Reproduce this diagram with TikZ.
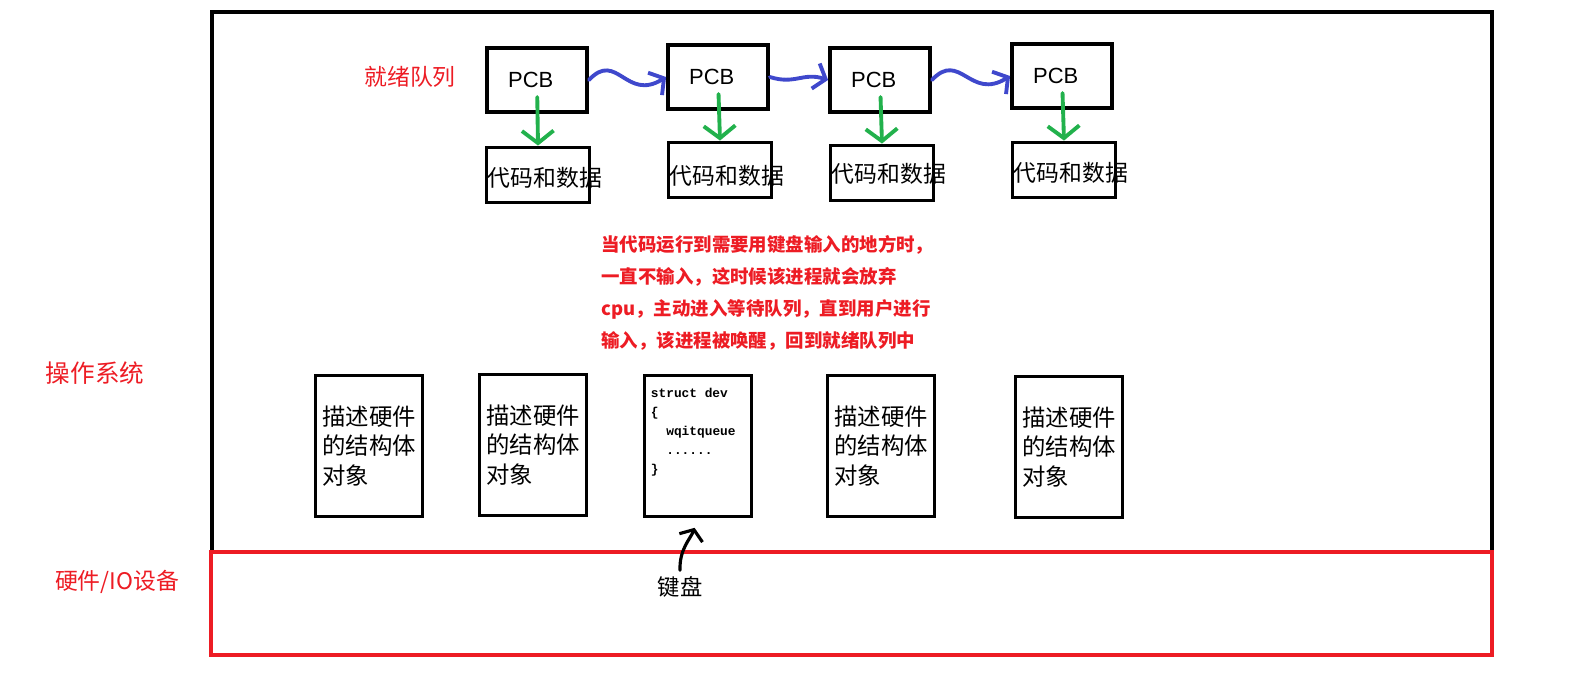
\documentclass[tikz,border=0pt]{standalone}
\usepackage{fontspec}
\setmainfont{Liberation Sans}
\newfontfamily\cjk{Noto Sans CJK SC}
\newfontfamily\codefont{Liberation Mono}
\usepackage{xcolor}
\usetikzlibrary{arrows.meta, positioning}
\definecolor{osred}{RGB}{237,28,36}
\definecolor{penblue}{RGB}{63,72,204}
\definecolor{pengreen}{RGB}{34,177,76}
\tikzset{
  pcbbox/.style={draw, line width=2.2pt, minimum width=2cm, minimum height=1.28cm, inner sep=0pt, font=\fontsize{12.5}{13}\selectfont},
  databox/.style={draw, line width=2.2pt, minimum width=2.06cm, minimum height=1.1cm, inner sep=0pt},
  datatext/.style={anchor=west, inner sep=0pt, font=\cjk\fontsize{13}{14}\selectfont},
  hwbox/.style={draw, line width=2.2pt, minimum width=2.14cm, minimum height=2.82cm, align=left, font=\cjk\fontsize{13.3}{17}\selectfont},
  redlabel/.style={osred, font=\cjk\fontsize{13}{14}\selectfont},
  nextarrow/.style={penblue, line width=2.2pt, line cap=round, -{Straight Barb[length=6pt,width=15pt]}},
  dataarrow/.style={pengreen, line width=2.2pt, line cap=round, shorten <=0.34cm, -{Straight Barb[length=7pt,width=18pt]}}
}

\begin{document}
\begin{tikzpicture}[x=0.02cm, y=-0.02cm]
\useasboundingbox (0,0) rectangle (1593,699);

% Operating system and hardware areas
\draw[line width=2.1pt] (212,12) rectangle (1492,552);
\draw[osred, line width=2.1pt] (211,552) rectangle (1492,655);
\node[redlabel, font=\cjk\fontsize{14}{15}\selectfont] (oslabel) at (95,373) {操作系统};
\node[redlabel] (hwlabel) at (117,582) {硬件/IO设备};

% Ready queue
\node[redlabel] (readylabel) at (410,77) {就绪队列};
\node[pcbbox] (pcb1) at (537,80) {\hspace*{-0.25cm}PCB};
\node[pcbbox] (pcb2) at (718,77) {\hspace*{-0.25cm}PCB};
\node[pcbbox] (pcb3) at (880,80) {\hspace*{-0.25cm}PCB};
\node[pcbbox] (pcb4) at (1062,76) {\hspace*{-0.25cm}PCB};

% Code and data
\node[databox] (data1) at (538,175) {};
\node[databox] (data2) at (720,170) {};
\node[databox] (data3) at (882,173) {};
\node[databox] (data4) at (1064,170) {};
\node[datatext] (datatext1) at ([shift={(0.06cm,-0.05cm)}]data1.west) {代码和数据};
\node[datatext] (datatext2) at ([shift={(0.06cm,-0.12cm)}]data2.west) {代码和数据};
\node[datatext] (datatext3) at ([shift={(0.06cm,-0.02cm)}]data3.west) {代码和数据};
\node[datatext] (datatext4) at ([shift={(0.06cm,-0.05cm)}]data4.west) {代码和数据};

% Queue links
\draw[nextarrow] (pcb1.east) .. controls +(28,-30) and +(-40,25) .. (pcb2.west);
\draw[nextarrow] (pcb2.east) .. controls +(25,8) and +(-25,-8) .. (pcb3.west);
\draw[nextarrow] (pcb3.east) .. controls +(28,-30) and +(-40,25) .. (pcb4.west);

% PCB to code and data
\draw[dataarrow] (pcb1.center) -- (data1.north);
\draw[dataarrow] (pcb2.center) -- (data2.north);
\draw[dataarrow] (pcb3.center) -- (data3.north);
\draw[dataarrow] (pcb4.center) -- (data4.north);

% Note
\node[osred, anchor=west, align=left, inner sep=0pt, font=\cjk\bfseries\fontsize{10.5}{18.2}\selectfont] (note) at (601,293)
  {当代码运行到需要用键盘输入的地方时，\\一直不输入，这时候该进程就会放弃\\cpu，主动进入等待队列，直到用户进行\\输入，该进程被唤醒，回到就绪队列中};

% Hardware objects
\node[hwbox] (obj1) at (369,446) {描述硬件\\的结构体\\对象};
\node[hwbox] (obj2) at (533,445) {描述硬件\\的结构体\\对象};
\node[hwbox] (dev) at (698,446) {};
\node[anchor=north west, align=left, inner sep=0pt, font=\codefont\bfseries\fontsize{7.3}{10.8}\selectfont] (devcode) at ([shift={(0.16cm,-0.28cm)}]dev.north west)
  {struct dev\\\{\\\ \ wqitqueue\\\ \ ......\\\}};
\node[hwbox] (obj3) at (881,446) {描述硬件\\的结构体\\对象};
\node[hwbox] (obj4) at (1069,447) {描述硬件\\的结构体\\对象};

% Keyboard
\node[font=\cjk\fontsize{12.7}{14}\selectfont] (key) at (680,587) {键盘};
\draw[line width=1.8pt, line cap=round, shorten >=0.2cm, -{Straight Barb[length=5pt,width=14pt]}] (key.north) to[out=92,in=-110] (dev.south);
\end{tikzpicture}
\end{document}
